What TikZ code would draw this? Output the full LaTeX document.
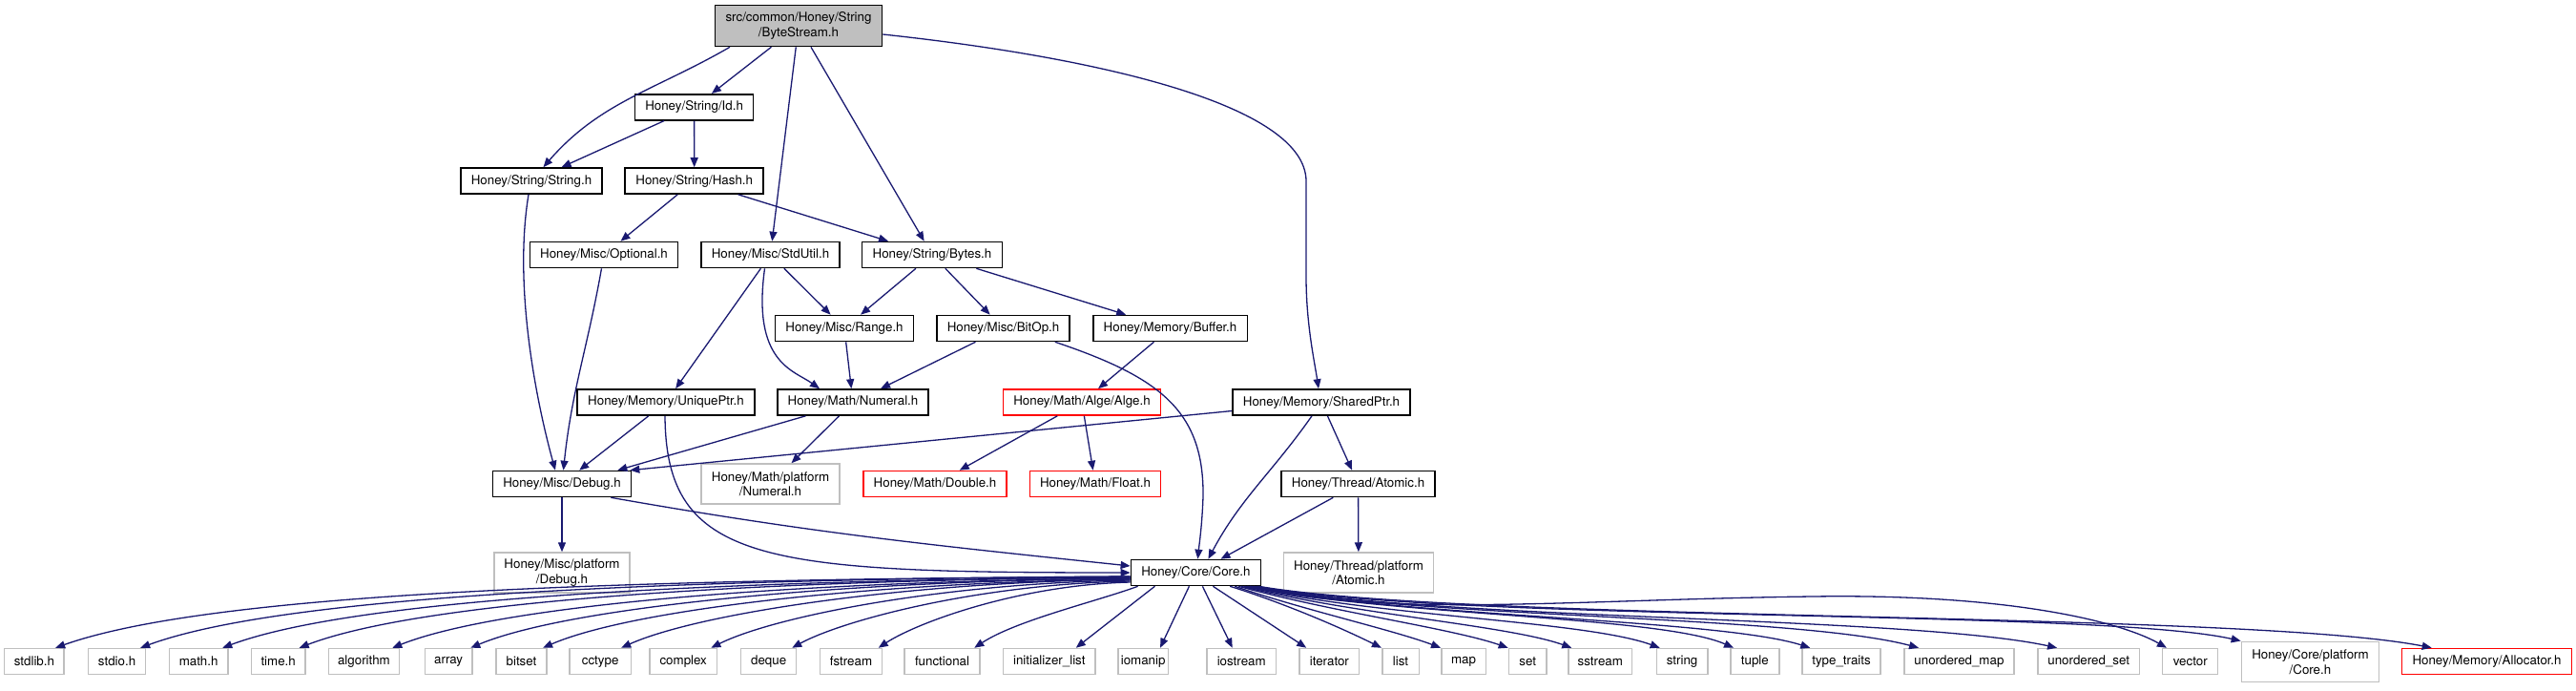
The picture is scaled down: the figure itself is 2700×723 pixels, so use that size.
\documentclass[tikz,border=0pt]{standalone}
\usepackage{fontspec}
\setmainfont{TeX Gyre Heros}
\usetikzlibrary{arrows.meta}
\definecolor{edgeblue}{HTML}{191970}
\definecolor{boxgray}{HTML}{BFBFBF}
\begin{document}
\begin{tikzpicture}[x=1pt,y=-1pt,
  every node/.style={font=\fontsize{13.33}{15.5}\selectfont, inner sep=0pt, align=center, minimum height=27pt},
  box/.style={draw=black, line width=1.6pt, fill=white},
  gbox/.style={draw=boxgray, line width=1.5pt, fill=white},
  rbox/.style={draw=red, line width=1.6pt, fill=white},
  edge/.style={draw=edgeblue, line width=1.3pt, -{Triangle[length=10pt,width=8pt]}},
]
\useasboundingbox (0,0) rectangle (2700,723);

% ---- nodes ----
\node[box, fill=boxgray, minimum width=175pt, minimum height=43pt] (root) at (837,27) {src/common/Honey/String\\/ByteStream.h};
\node[box, minimum width=124pt] (id) at (727.6,112.3) {Honey/String/Id.h};
\node[box, minimum width=148pt] (strh) at (557,189.5) {Honey/String/String.h};
\node[box, minimum width=145pt] (hash) at (727.7,189.5) {Honey/String/Hash.h};
\node[box, minimum width=155pt] (optional) at (633,267) {Honey/Misc/Optional.h};
\node[box, minimum width=145pt] (stdutil) at (807.5,267) {Honey/Misc/StdUtil.h};
\node[box, minimum width=147pt] (bytes) at (977,267) {Honey/String/Bytes.h};
\node[box, minimum width=145pt] (range) at (885,344) {Honey/Misc/Range.h};
\node[box, minimum width=139pt] (bitop) at (1051.5,344) {Honey/Misc/BitOp.h};
\node[box, minimum width=161.6pt] (buffer) at (1226.5,344) {Honey/Memory/Buffer.h};
\node[box, minimum width=185.5pt] (uniqueptr) at (698,421.5) {Honey/Memory/UniquePtr.h};
\node[box, minimum width=158.5pt] (numeral) at (894,421.5) {Honey/Math/Numeral.h};
\node[rbox, minimum width=165pt] (alge) at (1134,421.5) {Honey/Math/Alge/Alge.h};
\node[box, minimum width=185.5pt] (sharedptr) at (1385,421.5) {Honey/Memory/SharedPtr.h};
\node[box, minimum width=145pt] (debug) at (589,507) {Honey/Misc/Debug.h};
\node[gbox, minimum width=145pt, minimum height=42pt] (mathplat) at (807.5,507) {Honey/Math/platform\\/Numeral.h};
\node[rbox, minimum width=150pt] (dbl) at (980,507) {Honey/Math/Double.h};
\node[rbox, minimum width=137pt] (flt) at (1148,507) {Honey/Math/Float.h};
\node[box, minimum width=161pt] (atomic) at (1423.5,507) {Honey/Thread/Atomic.h};
\node[box, minimum width=136pt] (core) at (1253.4,600) {Honey/Core/Core.h};
\node[gbox, minimum width=142pt, minimum height=42pt] (debugplat) at (589,600) {Honey/Misc/platform\\/Debug.h};
\node[gbox, minimum width=157pt, minimum height=42pt] (atomicplat) at (1424,600) {Honey/Thread/platform\\/Atomic.h};

% bottom row
\node[gbox, minimum width=62.6pt] (stdlib) at (35.9,693) {stdlib.h};
\node[gbox, minimum width=60.3pt] (stdio) at (122.55,693) {stdio.h};
\node[gbox, minimum width=61.4pt] (mathh) at (208.1,693) {math.h};
\node[gbox, minimum width=56.3pt] (timeh) at (291.65,693) {time.h};
\node[gbox, minimum width=74.1pt] (algorithm) at (381.45,693) {algorithm};
\node[gbox, minimum width=49.3pt] (array) at (470.15,693) {array};
\node[gbox, minimum width=53pt] (bitset) at (546.5,693) {bitset};
\node[gbox, minimum width=64.3pt] (cctype) at (629.15,693) {cctype};
\node[gbox, minimum width=70.4pt] (complex) at (716.2,693) {complex};
\node[gbox, minimum width=58pt] (deque) at (805.7,693) {deque};
\node[gbox, minimum width=65.3pt] (fstream) at (892,693) {fstream};
\node[gbox, minimum width=78.7pt] (functional) at (987.55,693) {functional};
\node[gbox, minimum width=96.4pt] (initlist) at (1099.8,693) {initializer\_list};
\node[gbox, minimum width=52.3pt] (iomanip) at (1198.15,693) {iomanip};
\node[gbox, minimum width=72.4pt] (iostream) at (1301.2,693) {iostream};
\node[gbox, minimum width=62.7pt] (iterator) at (1393.35,693) {iterator};
\node[gbox, minimum width=38.5pt] (list) at (1468,693) {list};
\node[gbox, minimum width=46.5pt] (map) at (1534,693) {map};
\node[gbox, minimum width=39.6pt] (set) at (1601.2,693) {set};
\node[gbox, minimum width=66.6pt] (sstream) at (1677.3,693) {sstream};
\node[gbox, minimum width=53.4pt] (string) at (1763.1,693) {string};
\node[gbox, minimum width=51.1pt] (tuple) at (1839.35,693) {tuple};
\node[gbox, minimum width=82pt] (typetraits) at (1930,693) {type\_traits};
\node[gbox, minimum width=115.2pt] (umap) at (2053.4,693) {unordered\_map};
\node[gbox, minimum width=106.8pt] (uset) at (2189.2,693) {unordered\_set};
\node[gbox, minimum width=58pt] (vector) at (2295.7,693) {vector};
\node[gbox, minimum width=144.1pt, minimum height=42.4pt] (coreplat) at (2421.45,693.5) {Honey/Core/platform\\/Core.h};
\node[rbox, minimum width=178pt] (allocator) at (2606.5,693) {Honey/Memory/Allocator.h};

% ---- edges ----
\draw[edge] ([xshift=-72pt]root.south) to[out=-150,in=49] (strh);
\draw[edge] (root) -- (id);
\draw[edge] (root) -- (stdutil);
\draw[edge] (root) -- (bytes);
\draw[edge] ([yshift=-9pt]root.east) .. controls (1150,60) and (1369,110) .. (1369,190) -- (1369,290) .. controls (1369,340) and (1378,380) .. ([xshift=-3pt]sharedptr.north);
\draw[edge] (id) -- (strh);
\draw[edge] (id) -- (hash);
\draw[edge] ([xshift=-3pt]strh.south) .. controls (538,300) and (562,420) .. ([xshift=-7pt]debug.north);
\draw[edge] (hash) -- (optional);
\draw[edge] (hash) -- (bytes);
\draw[edge] (optional) to[out=-100,in=84] (debug);
\draw[edge] (stdutil) -- (uniqueptr);
\draw[edge] ([xshift=-6pt]stdutil.south) .. controls (788,380) and (832,388) .. ([xshift=-35pt]numeral.north);
\draw[edge] (stdutil) -- (range);
\draw[edge] (bytes) -- (range);
\draw[edge] (bytes) -- (bitop);
\draw[edge] (bytes) -- (buffer);
\draw[edge] (range) -- (numeral);
\draw[edge] (bitop) -- (numeral);
\draw[edge] ([xshift=-16pt]bitop.south east) .. controls (1215,395) and (1262,430) .. (1261,520) .. controls (1260,550) and (1257,570) .. ([xshift=2pt]core.north);
\draw[edge] (buffer) -- (alge);
\draw[edge] (uniqueptr) -- (debug);
\draw[edge] ([xshift=-1pt]uniqueptr.south) .. controls (698,590) and (800,600) .. (core.west);
\draw[edge] (numeral) -- ([xshift=-15pt]debug.north east);
\draw[edge] (numeral) -- (mathplat);
\draw[edge] (alge) -- (dbl);
\draw[edge] (alge) -- (flt);
\draw[edge] ([yshift=-9pt]sharedptr.west) -- ([xshift=-2pt]debug.north east);
\draw[edge] (sharedptr) to[out=-125,in=62] ([xshift=13pt]core.north);
\draw[edge] (sharedptr) -- (atomic);
\draw[edge] (atomic) -- (core);
\draw[edge] (atomic) -- (atomicplat);
\draw[edge] (debug) -- (debugplat);
\draw[edge] ([xshift=-22pt]debug.south east) to[out=-10,in=174] ([yshift=7pt]core.west);

% core fan, left
\draw[edge] ([yshift=-4pt]core.west) .. controls (678,607) and (227,619) .. ([xshift=-9.8pt]stdlib.north east);
\draw[edge] ([yshift=-4pt]core.west) .. controls (718,607) and (302,622) .. ([xshift=-6.3pt]stdio.north east);
\draw[edge] ([yshift=-5pt]core.west) .. controls (757,608) and (375,626) .. ([xshift=-6.3pt]mathh.north east);
\draw[edge] ([yshift=-5pt]core.west) .. controls (793,608) and (444,629) .. ([xshift=-6.9pt]timeh.north east);
\draw[edge] ([yshift=-6pt]core.west) .. controls (837,609) and (527,633) .. ([xshift=-8pt]algorithm.north east);
\draw[edge] ([yshift=-6pt]core.west) .. controls (874,609) and (596,636) .. ([xshift=-2.3pt]array.north east);
\draw[edge] ([yshift=-7pt]core.west) .. controls (908,610) and (661,639) .. ([xshift=-4.7pt]bitset.north east);
\draw[edge] ([yshift=-7pt]core.west) .. controls (945,610) and (731,643) .. ([xshift=-10.9pt]cctype.north east);
\draw[edge] ([yshift=-8pt]core.west) .. controls (987,611) and (811,646) .. ([xshift=-6.8pt]complex.north east);
\draw[edge] ([yshift=-9pt]core.west) .. controls (1025,612) and (883,650) .. ([xshift=-5.2pt]deque.north east);
\draw[edge] ([yshift=-10pt]core.west) .. controls (1066,613) and (960,653) .. ([xshift=-4.7pt]fstream.north east);
\draw[edge] ([xshift=8pt]core.south west) .. controls (1150,630) and (1065,650) .. ([xshift=-6.4pt]functional.north east);
\draw[edge] ([xshift=-43pt]core.south) -- ([xshift=-21pt]initlist.north east);
\draw[edge] ([xshift=-7pt]core.south) -- ([xshift=-9pt]iomanip.north east);
\draw[edge] ([xshift=7pt]core.south) -- ([xshift=-9.5pt]iostream.north);
\draw[edge] ([xshift=18pt]core.south) -- ([xshift=8pt]iterator.north west);

% core fan, right
\draw[edge] ([xshift=-33pt]core.south east) .. controls (1340,630) and (1400,655) .. (list.north west);
\draw[edge] ([xshift=-28pt]core.south east) .. controls (1370,640) and (1460,660) .. (map.north west);
\draw[edge] ([xshift=-24pt]core.south east) .. controls (1400,642) and (1520,658) .. (set.north west);
\draw[edge] ([xshift=-21pt]core.south east) .. controls (1420,644) and (1580,655) .. ([xshift=4pt]sstream.north west);
\draw[edge] ([xshift=-18pt]core.south east) .. controls (1440,646) and (1660,650) .. ([xshift=4pt]string.north west);
\draw[edge] ([xshift=-15pt]core.south east) .. controls (1450,645) and (1740,645) .. ([xshift=4pt]tuple.north west);
\draw[edge] ([xshift=-12pt]core.south east) .. controls (1460,646) and (1800,648) .. ([xshift=9pt]typetraits.north west);
\draw[edge] ([xshift=-10pt]core.south east) .. controls (1480,648) and (1880,644) .. ([xshift=16pt]umap.north west);
\draw[edge] ([xshift=-8pt]core.south east) .. controls (1500,650) and (2000,645) .. ([xshift=21pt]uset.north west);
\draw[edge] ([xshift=-12pt]core.south east) .. controls (1450,648) and (1650,628) .. (1900,625) .. controls (2100,622) and (2220,650) .. ([xshift=5pt]vector.north west);
\draw[edge] ([xshift=-5pt]core.south east) .. controls (1520,652) and (2200,638) .. (coreplat.north west);
\draw[edge] ([xshift=-3pt]core.south east) .. controls (1540,652) and (2350,640) .. ([xshift=32pt]allocator.north west);
\end{tikzpicture}
\end{document}
